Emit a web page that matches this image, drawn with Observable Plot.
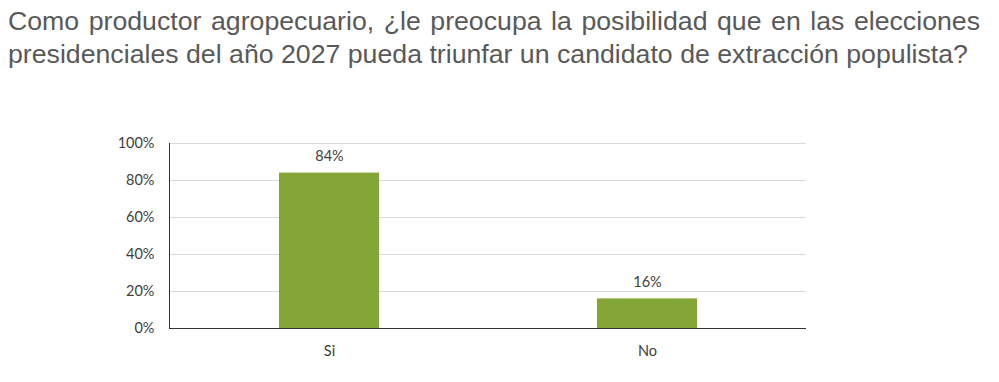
<!DOCTYPE html>
<html>
<head>
<meta charset="utf-8">
<script src="https://cdn.jsdelivr.net/npm/d3@7"></script>
<script src="https://cdn.jsdelivr.net/npm/@observablehq/plot@0.6"></script>
<style>
  html, body { margin: 0; padding: 0; background: #fff; width: 999px; height: 382px; overflow: hidden; }
  #title {
    position: absolute; left: 8px; top: 5px; width: 972px;
    font-family: "Liberation Sans", Arial, sans-serif; font-size: 26.7px; line-height: 32.5px;
    color: #595959; text-align: justify; text-align-last: left;
  }
  #chart { position: absolute; left: 0; top: 80px; }
</style>
</head>
<body>
<div id="title">Como productor agropecuario, ¿le preocupa la posibilidad que en las elecciones presidenciales del año 2027 pueda triunfar un candidato de extracción populista?</div>
<div id="chart"></div>
<script>
const categories = ["Si", "No"];
const values = [0.84, 0.16];
const yTicks = [0, 0.2, 0.4, 0.6, 0.8, 1];

const data = categories.map((c, i) => ({cat: c, value: values[i]}));
const pct = d => Math.round(d * 100) + "%";

const chart = Plot.plot({
  width: 999,
  height: 302,
  marginTop: 63,
  marginBottom: 54,
  marginLeft: 169,
  marginRight: 193,
  style: {fontFamily: "Lato, 'Open Sans', sans-serif", fontSize: "14.5px", color: "#404040", background: "white"},
  x: {domain: categories, paddingInner: 0.686, paddingOuter: 0.343, label: null},
  y: {domain: [0, 1], label: null},
  marks: [
    Plot.gridY(yTicks, {stroke: "#d9d9d9", strokeOpacity: 1}),
    Plot.barY(data, {x: "cat", y: "value", fill: "#84A637"}),
    Plot.text(data, {x: "cat", y: "value", text: d => pct(d.value), dy: -17, fill: "#404040"}),
    Plot.axisY(yTicks, {tickSize: 0, tickPadding: 15, tickFormat: pct, label: null, fill: "#404040"}),
    Plot.axisX({tickSize: 0, tickPadding: 17, label: null, fill: "#404040"}),
    Plot.frame({anchor: "left", stroke: "#333"}),
    Plot.ruleY([0], {stroke: "#333"})
  ]
});
document.getElementById("chart").appendChild(chart);
</script>
</body>
</html>
